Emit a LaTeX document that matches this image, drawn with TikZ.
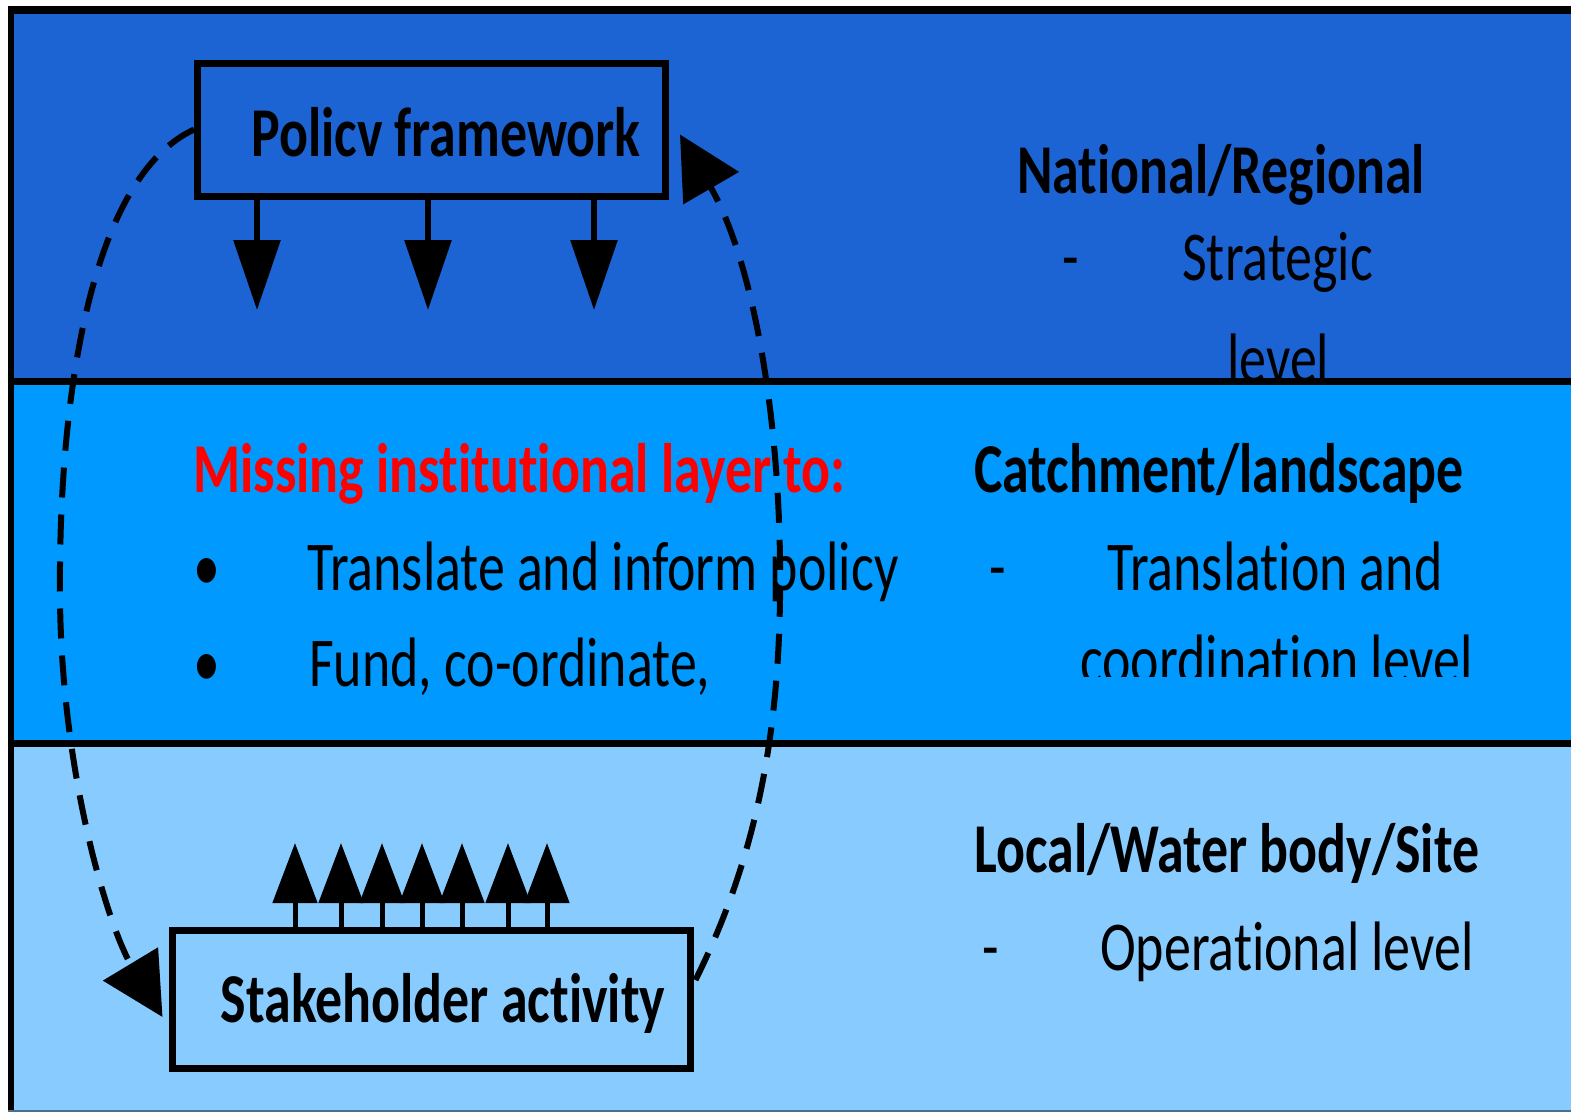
\documentclass[tikz,border=0pt]{standalone}
\usepackage{fontspec}
\setmainfont{Carlito}[FakeStretch=0.77, RawFeature={-liga;-clig;-calt;-dlig}]
\usepackage{tikz}
\usetikzlibrary{arrows.meta,calc}
\usepackage{xcolor}
\definecolor{nationalblue}{RGB}{28,100,212}
\definecolor{catchmentblue}{RGB}{0,153,255}
\definecolor{localblue}{RGB}{136,204,255}

\tikzset{
  levelbox/.style={draw=black, line width=7pt, inner sep=0pt},
  bodytext/.style={font=\fontsize{70}{70}\selectfont, inner sep=0pt, anchor=base west},
  headtext/.style={font=\fontsize{70}{70}\selectfont\bfseries, inner sep=0pt, anchor=base west},
  cycledash/.style={line width=6pt, dash pattern=on 30pt off 17pt, -{Triangle[length=62pt,width=63pt]}},
  downarrow/.style={line width=6pt, -{Triangle[length=70pt,width=46pt]}},
  uparrow/.style={line width=5pt, -{Triangle[length=60pt,width=44pt]}},
}

\begin{document}
\begin{tikzpicture}[x=1pt,y=-1pt]
        \useasboundingbox (0,0) rectangle (1571,1112);

        % Draw level bands
        \fill[nationalblue] (8,6) rectangle (1571,381);
        \fill[catchmentblue] (8,381) rectangle (1571,743);
        \fill[localblue] (8,743) rectangle (1571,1112);

        % Level descriptions
        \node[headtext] (national) at (1017,193) {National/Regional};
        \node[bodytext] (dashone) at (1062,280) {-};
        \node[bodytext] (strategic) at (1182,280) {Strategic};
        \begin{scope}
            \clip (900,300) rectangle (1571,377);
            \node[bodytext] (stratlevel) at (1227,382) {level};
        \end{scope}

        \node[headtext] (catchment) at (974,492) {Catchment/landscape};
        \node[bodytext] (dashtwo) at (989,590) {-};
        \node[bodytext] (translation) at (1107,590) {Translation and};
        \begin{scope}
            \clip (900,600) rectangle (1571,676);
            \node[bodytext] (coordination) at (1080,683) {coordination level};
        \end{scope}

        \node[headtext] (local) at (974,872) {Local/Water body/Site};
        \node[bodytext] (dashthree) at (982,970) {-};
        \node[bodytext] (operational) at (1100,970) {Operational level};

        % Missing layer
        \node[headtext, text=red] (missing) at (193,492) {Missing institutional layer to:};
        \node[bodytext] (bulletone) at (193,590) {•};
        \node[bodytext] (translate) at (307,590) {Translate and inform policy};
        \node[bodytext] (bullettwo) at (193,686) {•};
        \node[bodytext] (fund) at (309,686) {Fund, co-ordinate,};

        % Boxes
        \node[levelbox, fill=nationalblue, minimum width=468pt, minimum height=133pt] (policy) at (431.5,129.5) {};
        \node[headtext, anchor=base] (policytext) at (446,156) {Policv framework};
        \node[levelbox, fill=localblue, minimum width=518pt, minimum height=138pt] (stake) at (431,999) {};
        \node[headtext, anchor=base] (staketext) at (443,1022) {Stakeholder activity};

        % Top-down and bottom-up arrows
        \foreach \x in {257,428,594}
            \draw[downarrow] (\x,0 |- policy.south) -- (\x,310);
        \foreach \x in {295,341,382,422,462,508,547}
            \draw[uparrow] (\x,0 |- stake.north) -- (\x,843);

        % Feedback loop
        \draw[cycledash] (policy.west) .. controls (90,178) and (58,400) .. (60,600)
            .. controls (62,780) and (110,930) .. ($(stake.west)+(-6,18)$);
        \draw[cycledash] ($(stake.east)+(2,-19)$) .. controls (760,850) and (782,720) .. (780,560)
            .. controls (778,400) and (750,255) .. ($(policy.east)+(11,5)$);

        % Dividers and frame
        \draw[line width=7pt] (8,381) -- (1571,381);
        \draw[line width=7pt] (8,743) -- (1571,743);
        \draw[line width=8pt] (8,10) -- (1571,10);
        \draw[line width=6pt] (11,6) -- (11,1112);
        \draw[line width=2pt, black!45!localblue] (8,1111) -- (1571,1111);
    \end{tikzpicture}
\end{document}
